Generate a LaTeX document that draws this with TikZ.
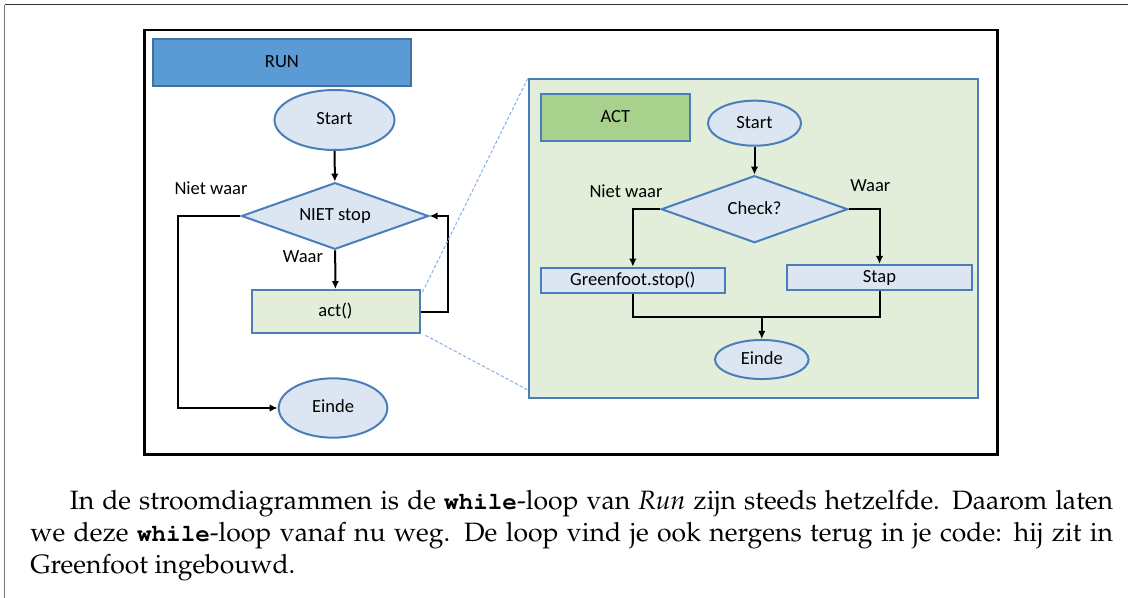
\documentclass[tikz,border=0pt]{standalone}
\usepackage{fontspec}
\newfontfamily\flowfont{Carlito}
\usepackage[T1]{fontenc}
\usepackage{mathpazo}
\usepackage{courier}
\usetikzlibrary{shapes.geometric,arrows.meta,calc}

\definecolor{runblue}{HTML}{5B9BD5}
\definecolor{runedge}{HTML}{41719C}
\definecolor{shapeedge}{HTML}{4A7EBB}
\definecolor{paleblue}{HTML}{DCE6F2}
\definecolor{palegreen}{HTML}{E2EEDA}
\definecolor{actgreen}{HTML}{A9D18E}
\definecolor{zoomblue}{HTML}{8DB3E2}

\newcommand{\kw}[1]{{\fontsize{18.2}{23.7}\selectfont\ttfamily\bfseries #1}}

\tikzset{every picture/.style={line width=0.75pt}}
\tikzset{
  flowtext/.style={font=\flowfont\fontsize{13.9}{16}\selectfont, text height=9.5pt, text depth=2pt, inner sep=0pt},
  terminal/.style={flowtext, ellipse, draw=shapeedge, fill=paleblue, line width=1.5},
  decision/.style={flowtext, diamond, aspect=2.8, draw=shapeedge, fill=paleblue, line width=1.5},
  process/.style={flowtext, rectangle, draw=shapeedge, line width=1.5},
  flowline/.style={line width=1.5, -{Latex[length=6pt,width=5.5pt]}},
  plainline/.style={line width=1.5},
  zoomline/.style={zoomblue, line width=0.8, dash pattern=on 2.5pt off 1.5pt},
  bodytext/.style={font=\fontsize{19.9}{23.7}\selectfont, inner sep=0pt, text width=812pt, align=justify}
}

\begin{document}
\begin{tikzpicture}[x=0.75pt,y=0.75pt,yscale=-1]
\useasboundingbox (0,0) rectangle (1128,598);

%Page border
\draw [color=black!55, line width=0.9] (4.7,598) -- (4.7,4.7) ;
\draw [color=black!80, line width=1.1] (4.7,4.7) -- (1128,4.7) ;

%Frame
\draw [line width=2.2] (144.6,30) rectangle (997.8,454.3) ;

%Shape: Rectangle [RUN]
\node [process, fill=runblue, draw=runedge, minimum width=194pt, minimum height=35pt] (run) at (281.9,62.65) {RUN};
%Shape: Ellipse
\node [terminal, minimum width=90pt, minimum height=45pt] (start) at (334.5,120) {Start};
%Shape: Diamond
\node [decision, minimum width=140.3pt, minimum height=50pt] (notstop) at (335,216) {NIET stop};
%Shape: Rectangle
\node [process, fill=palegreen, minimum width=126pt, minimum height=32.5pt] (act) at (335.5,311.7) {act()};
%Shape: Ellipse
\node [terminal, minimum width=81.5pt, minimum height=44.5pt] (einde) at (333,408) {Einde};

% Text Node
\node [flowtext] (nietwaar) at (211,190) {Niet waar};
% Text Node
\node [flowtext] (waar) at (303,258) {Waar};

%Connectors
\draw [flowline] (start) -- (notstop) ;
\draw [flowline] (notstop) -- (act) ;
\draw [flowline] (act.east) -- ++(27.2,0) |- (notstop.east) ;
\draw [flowline] (notstop.west) -- ++(-62.4,0) |- (einde.west) ;

%Shape: Rectangle [zoomed ACT panel]
\node [process, fill=palegreen, minimum width=337.2pt, minimum height=239pt] (actpanel) at (753.6,238.65) {};

%Dashed zoom lines
\draw [zoomline] ($(act.north east)+(2,3)$) -- (actpanel.north west) ;
\draw [zoomline] ($(act.south east)+(5,1)$) -- ($(actpanel.south west)+(0,-9)$) ;

%Shape: Rectangle [ACT]
\node [process, fill=actgreen, minimum width=112pt, minimum height=34.8pt] (actlabel) at (615.35,117.5) {ACT};
%Shape: Ellipse
\node [terminal, minimum width=69.8pt, minimum height=33.8pt] (start2) at (754.5,123.2) {Start};
%Shape: Diamond
\node [decision, minimum width=139.8pt, minimum height=50.3pt] (check) at (754.5,209.2) {Check?};
%Shape: Rectangle
\node [process, fill=paleblue, minimum width=138.2pt, minimum height=19.2pt] (stopcall) at (632.85,280.5) {Greenfoot.stop()};
%Shape: Rectangle
\node [process, fill=paleblue, minimum width=138.2pt, minimum height=18.8pt] (stap) at (879.5,277.5) {Stap};
%Shape: Ellipse
\node [terminal, minimum width=70.2pt, minimum height=29.3pt] (einde2) at (761.8,359.5) {Einde};
\coordinate (merge) at (761.8,316.7);

% Text Node
\node [flowtext] (nietwaar2) at (626,193) {Niet waar};
% Text Node
\node [flowtext] (waar2) at (870.3,186.3) {Waar};

%Connectors
\draw [flowline] (start2) -- (check) ;
\draw [flowline] (check.west) -| (stopcall.north) ;
\draw [flowline] (check.east) -| (stap.north) ;
\draw [plainline] (stopcall.south) |- (merge) -| (stap.south) ;
\draw [flowline] (merge) -- (einde2.north) ;

% Text Node
\node [bodytext, anchor=north west] (para) at (29.9,490.3) {\hspace*{29.6pt}In de stroomdiagrammen is de \kw{while}-loop van \textit{Run} zijn steeds hetzelfde. Daarom laten\linebreak we deze \kw{while}-loop vanaf nu weg. De loop vind je ook nergens terug in je code: hij zit in\linebreak Greenfoot ingebouwd.};

\end{tikzpicture}
\end{document}
